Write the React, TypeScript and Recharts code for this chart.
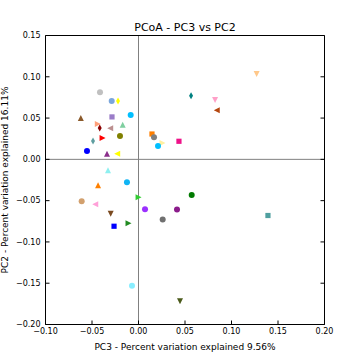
import React from 'react'
import {
  ScatterChart,
  Scatter,
  XAxis,
  YAxis,
  ReferenceLine
} from 'recharts'

// PC3 (x) and PC2 (y) coordinates, one entry per sample
const pc3 = [
  -0.0414, -0.0288, -0.022, -0.0084, -0.062, -0.0285, -0.0443, -0.017, -0.0299, -0.0417,
  -0.0199, -0.0392, -0.0489, -0.0554, -0.0339, -0.0224, 0.127, 0.0565, 0.0823, 0.0847,
  0.0145, 0.0167, 0.0253, 0.021, 0.0435, -0.0328, -0.0435, -0.0124, -0.0611, -0.046,
  -0.0299, -0.0263, -0.0005, 0.007, -0.0113, 0.0572, 0.0414, 0.026, 0.1392, -0.007, 0.0446
]
const pc2 = [
  0.0814, 0.0708, 0.0708, 0.0538, 0.0494, 0.0514, 0.0429, 0.0413, 0.0377, 0.038,
  0.0283, 0.0259, 0.0222, 0.0101, 0.0061, 0.0069, 0.104, 0.0769, 0.0725, 0.0595,
  0.0307, 0.0267, 0.0198, 0.0162, 0.0219, -0.0137, -0.032, -0.0276, -0.0507, -0.0543,
  -0.0652, -0.081, -0.0458, -0.0604, -0.0774, -0.0433, -0.0608, -0.0729, -0.068, -0.1531, -0.1713
]
const colors = [
  '#c0c0c0', '#7aa6dc', '#ffff00', '#00bfff', '#8b5a2b', '#9a7cc8', '#ffa07a', '#7fcfa0', '#bc8f8f', '#8b0000',
  '#808000', '#ff0000', '#5f9ea0', '#0000ff', '#8b2f8b', '#ffff00', '#ffc88a', '#008080', '#ffa0c8', '#b5470f',
  '#ff7f00', '#808080', '#fff0a0', '#00bfff', '#ee1289', '#8ef0f0', '#ff8000', '#10b4f4', '#d2a06e', '#ffa0d8',
  '#7a4a20', '#0000ff', '#32cd32', '#9b30ff', '#228b22', '#007a00', '#8b1c8b', '#707070', '#50a0a0', '#88eeff', '#4a5a1a'
]
// o circle, s square, ^ v < > triangles, d thin diamond
const markers = [
  'o', 'o', 'd', 'o', '^', 's', '>', '^', '<', 'd',
  'o', '>', 'd', 'o', '^', '<', 'v', 'd', 'v', '<',
  's', 'o', '>', 'o', 's', '^', '^', 'o', 'o', '<',
  'v', 's', '>', 'o', '>', 'o', 'o', 'o', 's', 'o', 'v'
]
const xTicks = [-0.1, -0.05, 0, 0.05, 0.1, 0.15, 0.2]
const yTicks = [-0.2, -0.15, -0.1, -0.05, 0, 0.05, 0.1, 0.15]

const data = pc3.map((x, i) => ({ x, y: pc2[i], color: colors[i], marker: markers[i] }))

const FONT = 'DejaVu Sans'

const fmt = (v: number) => (v < 0 ? '\u2212' + Math.abs(v).toFixed(2) : v.toFixed(2))

const Marker = (props: any) => {
  const { cx, cy, payload } = props
  const c = payload.color
  const r = 3
  switch (payload.marker) {
    case 's':
      return <rect x={cx - 2.6} y={cy - 2.6} width={5.2} height={5.2} fill={c} />
    case '^':
      return <polygon points={`${cx},${cy - r - 0.5} ${cx - r},${cy + r - 0.5} ${cx + r},${cy + r - 0.5}`} fill={c} />
    case 'v':
      return <polygon points={`${cx},${cy + r + 0.5} ${cx - r},${cy - r + 0.5} ${cx + r},${cy - r + 0.5}`} fill={c} />
    case '<':
      return <polygon points={`${cx - r - 0.5},${cy} ${cx + r - 0.5},${cy - r} ${cx + r - 0.5},${cy + r}`} fill={c} />
    case '>':
      return <polygon points={`${cx + r + 0.5},${cy} ${cx - r + 0.5},${cy - r} ${cx - r + 0.5},${cy + r}`} fill={c} />
    case 'd':
      return <polygon points={`${cx},${cy - 3.5} ${cx + 2},${cy} ${cx},${cy + 3.5} ${cx - 2},${cy}`} fill={c} />
    default:
      return <circle cx={cx} cy={cy} r={r} fill={c} />
  }
}

const tickStyle = { fontSize: 8, fill: '#000', fontFamily: FONT }

export default function App() {
  return (
    <div style={{ position: 'absolute', left: 0, top: 0, width: 360, height: 360, background: '#fff', fontFamily: FONT }}>
      <div style={{ position: 'absolute', left: 0, width: 370, top: 21.5, textAlign: 'center', fontSize: 11, lineHeight: '12px', color: '#000' }}>
        PCoA - PC3 vs PC2
      </div>
      <ScatterChart width={360} height={360} margin={{ top: 0, right: 0, bottom: 0, left: 0 }}>
        <XAxis
          type="number"
          dataKey="x"
          domain={[-0.1, 0.2]}
          ticks={xTicks}
          allowDataOverflow
          height={35.5}
          tickSize={-4}
          tickMargin={8}
          tickFormatter={fmt}
          tick={tickStyle}
          axisLine={{ stroke: '#000' }}
          tickLine={{ stroke: '#000' }}
          label={{ value: 'PC3 - Percent variation explained 9.56%', position: 'insideTop', offset: 19, fontSize: 9, fill: '#000', fontFamily: FONT }}
        />
        <XAxis
          xAxisId="top"
          orientation="top"
          type="number"
          domain={[-0.1, 0.2]}
          ticks={xTicks}
          allowDataOverflow
          height={35.5}
          tickSize={-4}
          tickFormatter={() => ''}
          axisLine={{ stroke: '#000' }}
          tickLine={{ stroke: '#000' }}
        />
        <YAxis
          type="number"
          dataKey="y"
          domain={[-0.2, 0.15]}
          ticks={yTicks}
          allowDataOverflow
          width={45.5}
          tickSize={-4}
          tickMargin={9}
          tickFormatter={fmt}
          tick={tickStyle}
          axisLine={{ stroke: '#000' }}
          tickLine={{ stroke: '#000' }}
          label={{ value: 'PC2 - Percent variation explained 16.11%', angle: -90, position: 'insideLeft', offset: 4.5, fontSize: 9, fill: '#000', fontFamily: FONT, style: { textAnchor: 'middle' } }}
        />
        <YAxis
          yAxisId="right"
          orientation="right"
          type="number"
          domain={[-0.2, 0.15]}
          ticks={yTicks}
          allowDataOverflow
          width={35.5}
          tickSize={-4}
          tickFormatter={() => ''}
          axisLine={{ stroke: '#000' }}
          tickLine={{ stroke: '#000' }}
        />
        <ReferenceLine x={0} stroke="#808080" />
        <ReferenceLine y={0} stroke="#808080" />
        <Scatter data={data} shape={Marker} isAnimationActive={false} />
      </ScatterChart>
    </div>
  )
}
